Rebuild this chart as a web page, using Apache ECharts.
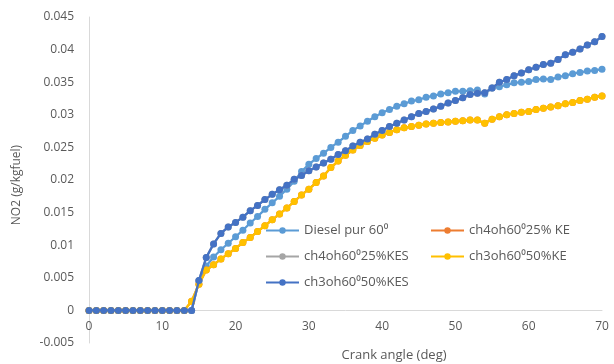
<!DOCTYPE html>
<html>
<head>
<meta charset="utf-8">
<script src="https://cdn.jsdelivr.net/npm/echarts@6/dist/echarts.min.js"></script>
<style>html,body{margin:0;padding:0;background:#fff}#c{width:614px;height:364px}</style>
</head>
<body>
<div id="c"></div>
<script>
const angles = [0,1,2,3,4,5,6,7,8,9,10,11,12,13,14,15,16,17,18,19,20,21,22,23,24,25,26,27,28,29,30,31,32,33,34,35,36,37,38,39,40,41,42,43,44,45,46,47,48,49,50,51,52,53,54,55,56,57,58,59,60,61,62,63,64,65,66,67,68,69,70];

const seriesNames = ["Diesel pur 60\u2070", "ch4oh60\u207025% KE", "ch4oh60\u207025%KES", "ch3oh60\u207050%KE", "ch3oh60\u207050%KES"];

const diesel = [0,0,0,0,0,0,0,0,0,0,0,0,0,0,0,0.0045,0.0068,0.0082,0.0093,0.0103,0.0113,0.0123,0.0134,0.0144,0.0155,0.0165,0.0175,0.0186,0.0198,0.0213,0.0224,0.0233,0.0241,0.025,0.0258,0.0267,0.0276,0.0283,0.029,0.0297,0.0303,0.0308,0.0313,0.0317,0.0321,0.0323,0.0327,0.0329,0.0332,0.0334,0.0336,0.0336,0.0337,0.0338,0.0332,0.0341,0.0343,0.0346,0.0349,0.035,0.0351,0.0354,0.0355,0.0354,0.0358,0.036,0.0363,0.0365,0.0367,0.0368,0.037];

const ch3ke = [0,0,0,0,0,0,0,0,0,0,0,0,0,0,0.0014,0.004,0.0062,0.007,0.0079,0.0087,0.0095,0.0104,0.0112,0.0121,0.013,0.0139,0.0148,0.0157,0.0167,0.0177,0.0186,0.0196,0.0206,0.0219,0.0229,0.0238,0.0246,0.0253,0.0259,0.0264,0.0269,0.0273,0.0277,0.028,0.0282,0.0284,0.0286,0.0287,0.0288,0.0289,0.029,0.0291,0.0292,0.0292,0.0287,0.0293,0.0297,0.03,0.0302,0.0304,0.0305,0.0308,0.031,0.0312,0.0314,0.0317,0.0319,0.0322,0.0324,0.0327,0.0329];

const ch3kes = [0,0,0,0,0,0,0,0,0,0,0,0,0,0,0,0.0046,0.0081,0.0102,0.0118,0.0128,0.0135,0.0143,0.0153,0.0161,0.017,0.0178,0.0185,0.0192,0.0201,0.0207,0.0214,0.022,0.0226,0.0232,0.0239,0.0245,0.0252,0.0258,0.0263,0.027,0.0276,0.0282,0.0287,0.0292,0.0297,0.0302,0.0305,0.0309,0.0313,0.0318,0.0322,0.0326,0.0331,0.0333,0.0334,0.0341,0.035,0.0354,0.036,0.0364,0.0369,0.0373,0.0377,0.0379,0.0385,0.0392,0.0396,0.0401,0.0407,0.0412,0.042];

// hidden beneath the other curves in the reference
const ch4ke = ch3ke.slice();
const ch4kes = ch3kes.slice();

const colors = ["#5B9BD5", "#ED7D31", "#A5A5A5", "#FFC000", "#4472C4"];
const allData = [diesel, ch4ke, ch4kes, ch3ke, ch3kes];

const yTicks = { min: -0.005, max: 0.045, interval: 0.005 };
const xTicks = { min: 0, max: 70, interval: 10 };

const chart = echarts.init(document.getElementById('c'), null, { renderer: 'canvas' });
const font = "'Open Sans', 'Noto Sans', sans-serif";
const gridTop = 17, gridBottom = 21, H = 364;
const plotH = H - gridTop - gridBottom;
const zeroOffset = plotH * (0 - yTicks.min) / (yTicks.max - yTicks.min);

const series = allData.map((d, i) => ({
  name: seriesNames[i],
  type: 'line',
  data: angles.map((a, j) => [a, d[j]]),
  symbol: 'circle',
  symbolSize: 7,
  showSymbol: true,
  lineStyle: { width: 2.25, color: colors[i] },
  itemStyle: { color: colors[i] },
  z: 2 + i
}));

const legendCommon = {
  orient: 'vertical', itemGap: 13, itemWidth: 33, itemHeight: 8, padding: 0,
  textStyle: { color: '#595959', fontSize: 13, fontFamily: font }
};

chart.setOption({
  animation: false,
  textStyle: { fontFamily: font },
  grid: { left: 89, right: 12, top: gridTop, bottom: gridBottom, containLabel: false },
  xAxis: {
    type: 'value', min: xTicks.min, max: xTicks.max, interval: xTicks.interval,
    offset: -zeroOffset,
    axisLine: { show: true, onZero: false, lineStyle: { color: '#d9d9d9', width: 1 } },
    axisTick: { show: false },
    splitLine: { show: false },
    axisLabel: { color: '#595959', fontSize: 12, margin: 10, fontFamily: font }
  },
  yAxis: {
    type: 'value', min: yTicks.min, max: yTicks.max, interval: yTicks.interval,
    axisLine: { show: true, lineStyle: { color: '#d9d9d9', width: 1 } },
    axisTick: { show: false },
    splitLine: { show: false },
    axisLabel: { color: '#595959', fontSize: 12, margin: 15, fontFamily: font,
      formatter: v => String(parseFloat(v.toFixed(3))) }
  },
  legend: [
    Object.assign({ left: 265, top: 224, data: [seriesNames[0], seriesNames[2], seriesNames[4]] }, legendCommon),
    Object.assign({ left: 430, top: 224, data: [seriesNames[1], seriesNames[3]] }, legendCommon)
  ],
  graphic: [
    { type: 'text', x: 394, y: 355,
      style: { text: 'Crank angle (deg)', fontSize: 13, fill: '#595959', fontFamily: font, align: 'center', verticalAlign: 'middle' } },
    { type: 'text', x: 17, y: 185, rotation: Math.PI / 2,
      style: { text: 'NO2 (g/kgfuel)', fontSize: 12, fill: '#595959', fontFamily: font, align: 'center', verticalAlign: 'middle' } }
  ],
  series: series
});
</script>
</body>
</html>
